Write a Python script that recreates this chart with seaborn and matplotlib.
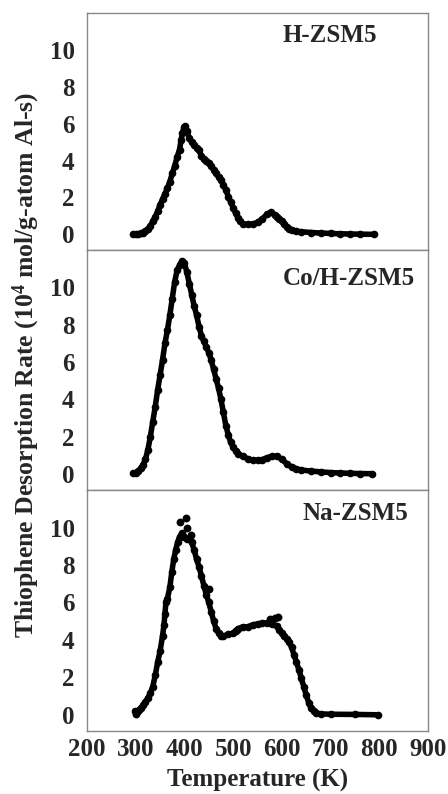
import seaborn as sns
import matplotlib.pyplot as plt
import pandas as pd

# H-ZSM5
h_temp = [295, 300, 305, 310, 315, 320, 325, 330, 335, 340, 345, 350, 355, 360, 365, 370,
          375, 380, 385, 390, 393, 396, 399, 402, 405, 410, 415, 420, 425, 430, 435, 440,
          445, 450, 455, 460, 465, 470, 475, 480, 485, 490, 495, 500, 505, 510, 515, 520,
          530, 540, 550, 560, 570, 578, 585, 590, 595, 600, 605, 610, 615, 620, 630, 640,
          660, 680, 700, 720, 740, 760, 790]
h_rate = [0.0, 0.0, 0.02, 0.05, 0.1, 0.2, 0.3, 0.45, 0.7, 0.95, 1.25, 1.6, 1.9, 2.2, 2.5, 2.85,
          3.3, 3.7, 4.2, 4.6, 5.1, 5.5, 5.8, 5.85, 5.6, 5.2, 5.0, 4.85, 4.7, 4.55, 4.25, 4.1,
          4.0, 3.85, 3.7, 3.5, 3.3, 3.1, 2.95, 2.7, 2.4, 2.05, 1.75, 1.45, 1.15, 0.9, 0.7, 0.55,
          0.55, 0.55, 0.65, 0.85, 1.1, 1.2, 1.05, 0.95, 0.85, 0.7, 0.55, 0.4, 0.3, 0.22, 0.17, 0.14,
          0.1, 0.07, 0.05, 0.03, 0.02, 0.01, 0.0]

# Co/H-ZSM5
co_temp = [295, 300, 305, 310, 315, 320, 325, 330, 335, 340, 345, 350, 355, 360, 365, 370,
           375, 380, 385, 390, 395, 400, 405, 410, 415, 420, 425, 430, 435, 440, 445, 450,
           455, 460, 465, 470, 475, 480, 485, 490, 495, 500, 505, 510, 520, 530, 540, 550,
           560, 570, 580, 590, 600, 610, 620, 630, 640, 660, 680, 700, 720, 740, 760, 785]
co_rate = [0.05, 0.08, 0.15, 0.3, 0.5, 0.8, 1.3, 2.0, 2.8, 3.6, 4.5, 5.3, 6.1, 7.0, 7.7, 8.5,
           9.4, 10.3, 10.9, 11.2, 11.4, 11.3, 10.8, 10.2, 9.6, 9.0, 8.5, 7.9, 7.4, 7.1, 6.8, 6.5,
           6.1, 5.6, 5.1, 4.6, 4.0, 3.3, 2.6, 2.1, 1.7, 1.45, 1.25, 1.1, 0.95, 0.82, 0.75, 0.74,
           0.78, 0.88, 0.96, 0.95, 0.8, 0.55, 0.38, 0.28, 0.22, 0.16, 0.12, 0.08, 0.06, 0.04, 0.03, 0.02]

# Na-ZSM5
na_temp = [298, 302, 306, 310, 315, 320, 325, 330, 335, 340, 345, 350, 355, 358, 360, 362,
           365, 370, 374, 378, 382, 386, 390, 395, 400, 405, 410, 415, 420, 425, 430, 435,
           440, 445, 450, 455, 460, 465, 470, 475, 480, 490, 500, 505, 510, 520, 530, 540,
           550, 560, 570, 580, 590, 595, 600, 605, 610, 615, 620, 625, 630, 635, 640, 645,
           650, 655, 660, 665, 670, 680, 700, 750, 798]
na_rate = [0.2, 0.15, 0.25, 0.35, 0.5, 0.7, 0.9, 1.15, 1.5, 2.1, 2.8, 3.4, 4.2, 4.8, 5.4, 6.0,
           6.2, 6.8, 7.6, 8.3, 8.8, 9.2, 9.5, 9.7, 9.5, 9.4, 9.4, 9.2, 8.8, 8.3, 7.9, 7.4,
           6.9, 6.4, 6.0, 5.5, 5.0, 4.6, 4.35, 4.2, 4.2, 4.3, 4.35, 4.5, 4.6, 4.7, 4.7, 4.8,
           4.85, 4.9, 4.9, 4.85, 4.75, 4.55, 4.35, 4.2, 4.05, 3.9, 3.6, 3.2, 2.8, 2.4, 1.95, 1.5,
           1.05, 0.65, 0.35, 0.2, 0.1, 0.05, 0.03, 0.02, 0.0]
# scattered points above the Na-ZSM5 curve
na_extra_temp = [391, 404, 405, 413, 450, 575, 585, 592, 301]
na_extra_rate = [10.3, 10.5, 10.0, 9.6, 6.7, 5.1, 5.15, 5.2, 0.05]

x_ticks = [200, 300, 400, 500, 600, 700, 800, 900]
y_ticks = [0, 2, 4, 6, 8, 10]

sns.set_theme(style="white")
plt.rcParams['font.family'] = ['Liberation Serif', 'DejaVu Serif']
plt.rcParams['font.weight'] = 'bold'
plt.rcParams['mathtext.default'] = 'regular'

fig = plt.figure(figsize=(4.48, 7.94), dpi=100)
left, width = 87 / 448, 341 / 448
boxes = [(0.6851, 0.2985), (0.3829, 0.3023), (0.0797, 0.3031)]
panels = [
    ("H-ZSM5", h_temp, h_rate, (283 / 448, 35 / 794)),
    ("Co/H-ZSM5", co_temp, co_rate, (283 / 448, 278 / 794)),
    ("Na-ZSM5", na_temp, na_rate, (302 / 448, 513 / 794)),
]

axes = []
for i, ((bottom, height), (name, t, r, pos)) in enumerate(zip(boxes, panels)):
    ax = fig.add_axes([left, bottom, width, height])
    df = pd.DataFrame({"T": t, "rate": r})
    sns.lineplot(data=df, x="T", y="rate", ax=ax, color="black", linewidth=4,
                 marker="o", markersize=5.5, markeredgewidth=0, sort=True)
    if name == "Na-ZSM5":
        extra = pd.DataFrame({"T": na_extra_temp, "rate": na_extra_rate})
        sns.scatterplot(data=extra, x="T", y="rate", ax=ax, color="black", s=32, linewidth=0)
    ax.set_xlim(200, 900)
    ax.set_ylim(-0.85, 12)
    ax.set_xticks(x_ticks)
    ax.set_yticks(y_ticks)
    ax.set_xlabel("")
    ax.set_ylabel("")
    for s in ax.spines.values():
        s.set_color("#888888")
        s.set_linewidth(1.0)
    ax.tick_params(axis="y", direction="out", length=3, width=0.8, color="#999999",
                   pad=6, labelsize=18)
    if i < 2:
        ax.tick_params(axis="x", direction="in", length=3, color="#444444", labelbottom=False)
    else:
        ax.tick_params(axis="x", direction="out", length=3, color="#444444", pad=2, labelsize=18)
    for lab in ax.get_xticklabels() + ax.get_yticklabels():
        lab.set_fontweight("bold")
    fig.text(pos[0], 1 - pos[1], name, fontsize=18, fontweight="bold", va="center", ha="left")
    axes.append(ax)

axes[2].set_xlabel("Temperature (K)", fontsize=18, fontweight="bold", labelpad=6)
fig.text(26 / 448, 1 - 365 / 794, "Thiophene Desorption Rate (10$^4$ mol/g-atom Al-s)",
         rotation=90, fontsize=18.5, fontweight="bold", va="center", ha="center")

fig.savefig("out.png", dpi=100)
